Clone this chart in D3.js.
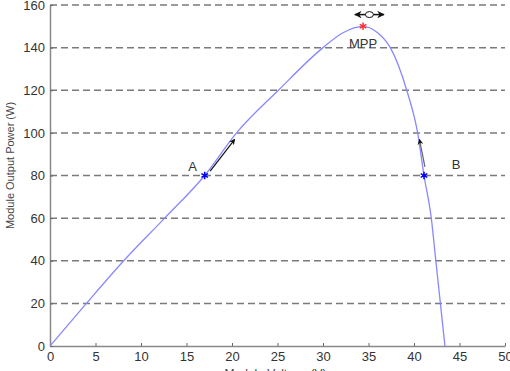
<!DOCTYPE html>
<meta charset="utf-8">
<style>
body { margin: 0; background: #fff; }
text { font-family: "Liberation Sans", Arial, sans-serif; }
.grid line { stroke: #7a7a7a; stroke-width: 1.5; stroke-dasharray: 7,4; }
.curve { fill: none; stroke: #8888ff; stroke-width: 1.3; }
</style>
<body>
<div id="chart"></div>
<script src="https://d3js.org/d3.v7.min.js"></script>
<script>
// P-V curve
var voltage = [0, 4, 8.1, 12.6, 17, 20.5, 25.1, 30, 32.2, 34.4, 36, 37.4, 39.2, 40.4, 41.1, 41.9, 42.4, 42.9, 43.4];
var power   = [0, 20, 40, 60, 80, 100, 120, 140, 147, 150, 147, 140, 120, 100, 80, 60, 40, 20, 0];
var xTicks = [0, 5, 10, 15, 20, 25, 30, 35, 40, 45, 50];
var yTicks = [0, 20, 40, 60, 80, 100, 120, 140, 160];
var pointNames = ["A", "B", "MPP"];
var pointV = [17, 41.1, 34.4];
var pointP = [80, 80, 150];

var margin = {top: 5, right: 5, bottom: 25, left: 50}
  , width = 510 - margin.left - margin.right
  , height = 371 - margin.top - margin.bottom;

var x = d3.scaleLinear().domain([0, 50]).range([0, width]);
var y = d3.scaleLinear().domain([0, 160]).range([height, 0]);

var svg = d3.select("#chart").append("svg")
    .attr("width", 510)
    .attr("height", 371)
  .append("g")
    .attr("transform", "translate(" + margin.left + "," + margin.top + ")");

svg.append("defs").append("marker")
    .attr("id", "head")
    .attr("viewBox", "0 0 10 10")
    .attr("refX", 9).attr("refY", 5)
    .attr("markerWidth", 5).attr("markerHeight", 5)
    .attr("orient", "auto-start-reverse")
  .append("path")
    .attr("d", "M0,0 L10,5 L0,10 L3,5 Z")
    .attr("fill", "#111");

// dashed horizontal grid
svg.append("g").attr("class", "grid")
  .selectAll("line")
  .data(yTicks.filter(function(d) { return d > 0; }))
  .enter().append("line")
    .attr("x1", 0).attr("x2", width)
    .attr("y1", function(d) { return y(d); })
    .attr("y2", function(d) { return y(d); });

// axes
var xAxis = svg.append("g")
    .attr("transform", "translate(0," + height + ")")
    .call(d3.axisBottom(x).tickValues(xTicks).tickSizeInner(-3).tickSizeOuter(0).tickPadding(6));
var yAxis = svg.append("g")
    .call(d3.axisLeft(y).tickValues(yTicks).tickSizeInner(-3).tickSizeOuter(0).tickPadding(5));
[xAxis, yAxis].forEach(function(a) {
  a.select(".domain").attr("stroke", "#888").attr("stroke-width", 1.5);
  a.selectAll(".tick line").attr("stroke", "#666");
  a.selectAll("text").attr("fill", "#333").style("font-size", "13px");
});

// the curve
var line = d3.line()
    .x(function(d) { return x(d[0]); })
    .y(function(d) { return y(d[1]); })
    .curve(d3.curveMonotoneX);
svg.append("path")
    .datum(d3.zip(voltage, power))
    .attr("class", "curve")
    .attr("d", line);

// arrows showing direction of tracking
svg.append("line")
    .attr("x1", x(17.6)).attr("y1", y(82))
    .attr("x2", x(20.3)).attr("y2", y(97))
    .attr("stroke", "#111").attr("stroke-width", 1.2)
    .attr("marker-end", "url(#head)");
svg.append("line")
    .attr("x1", x(41.2)).attr("y1", y(84))
    .attr("x2", x(40.6)).attr("y2", y(97))
    .attr("stroke", "#666").attr("stroke-width", 1.2)
    .attr("marker-end", "url(#head)");
// oscillation around MPP
svg.append("line")
    .attr("x1", x(33.5)).attr("y1", y(155.5))
    .attr("x2", x(36.7)).attr("y2", y(155.5))
    .attr("stroke", "#111").attr("stroke-width", 1.5)
    .attr("marker-start", "url(#head)")
    .attr("marker-end", "url(#head)");
svg.append("ellipse")
    .attr("cx", x(35.1)).attr("cy", y(155.5))
    .attr("rx", 4).attr("ry", 3)
    .attr("fill", "#fff").attr("stroke", "#111").attr("stroke-width", 1);

// marked points
var sym = d3.symbol().type(d3.symbolAsterisk).size(40);
svg.selectAll(".pt")
    .data(pointNames)
  .enter().append("path")
    .attr("class", "pt")
    .attr("transform", function(d, i) { return "translate(" + x(pointV[i]) + "," + y(pointP[i]) + ")"; })
    .attr("d", sym)
    .attr("fill", "none")
    .attr("stroke", function(d) { return d === "MPP" ? "#ff3030" : "#0000ff"; })
    .attr("stroke-width", 1.5);

var labelDx = [-12, 32, 0], labelDy = [-5, -7, 22];
svg.selectAll(".lbl")
    .data(pointNames)
  .enter().append("text")
    .attr("x", function(d, i) { return x(pointV[i]) + labelDx[i]; })
    .attr("y", function(d, i) { return y(pointP[i]) + labelDy[i]; })
    .attr("text-anchor", "middle")
    .attr("fill", "#333")
    .style("font-size", "13px")
    .text(function(d) { return d; });

// axis titles
svg.append("text")
    .attr("x", width / 2 - 2).attr("y", height + 32)
    .attr("text-anchor", "middle")
    .attr("fill", "#444")
    .style("font-size", "12px")
    .text("Module Voltage (V)");
svg.append("text")
    .attr("transform", "translate(-36," + (y(80) - 10) + ") rotate(-90)")
    .attr("text-anchor", "middle")
    .attr("fill", "#444")
    .style("font-size", "11px")
    .text("Module Output Power (W)");
</script>
</body>
